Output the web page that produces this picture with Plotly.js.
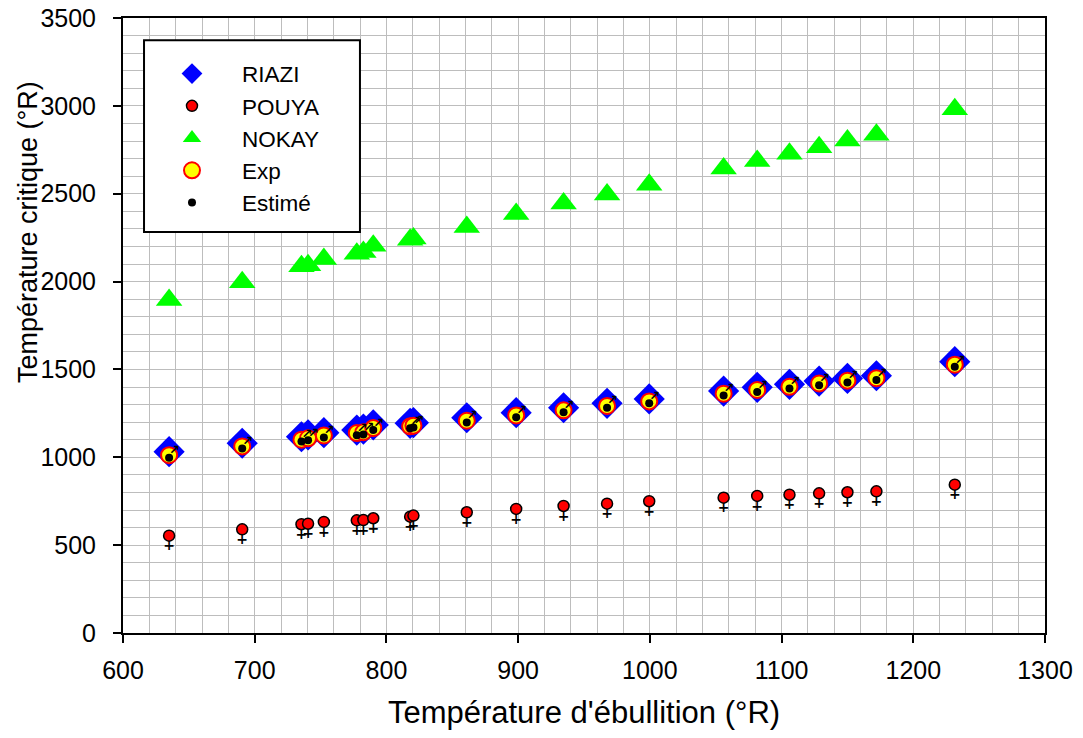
<!DOCTYPE html>
<html><head><meta charset="utf-8">
<script src="https://cdn.plot.ly/plotly-3.0.1.min.js"></script>
<style>html,body{margin:0;padding:0;background:#fff}#chart{width:1083px;height:738px}</style>
</head><body><div id="chart"></div>
<script>
// Température d'ébullition (°R)
const tempEbullition = [635, 690.5, 735.5, 740.5, 752.5, 777.5, 782.5, 790, 818, 820.5, 861, 898.5, 934.5, 967.5, 999.5, 1056, 1081.5, 1106, 1128.5, 1150, 1172, 1231.5];
// Température critique (°R)
const riazi  = [1032, 1080, 1117, 1127, 1140, 1155, 1160, 1184, 1193, 1197, 1225, 1254, 1282, 1307, 1332, 1377, 1398, 1415, 1434, 1449, 1464, 1544];
const pouya  = [554, 590, 619, 622, 632, 641, 643, 653, 662, 668, 687, 706, 723, 736, 750, 770, 780, 787, 795, 801, 806, 844];
const nokay  = [1895, 1996, 2087, 2093, 2128, 2158, 2168, 2204, 2238, 2245, 2311, 2385, 2445, 2495, 2551, 2644, 2686, 2727, 2765, 2803, 2836, 2980];
const expVals = [1012, 1062, 1100, 1108, 1124, 1138, 1143, 1166, 1176, 1180, 1208, 1238, 1267, 1292, 1318, 1362, 1383, 1401, 1420, 1436, 1450, 1527];
const estime = [998, 1050, 1090, 1097, 1112, 1125, 1130, 1155, 1165, 1170, 1198, 1228, 1256, 1282, 1308, 1352, 1372, 1392, 1410, 1425, 1440, 1515];
const seriesNames = ['RIAZI', 'POUYA', 'NOKAY', 'Exp', 'Estimé'];
const xTitle = "Température d'ébullition (°R)";
const yTitle = 'Température critique (°R)';

const fontFam = 'Liberation Sans, Arial, sans-serif';
const gridCol = '#bdbdbd';

const traces = [
  {x: tempEbullition, y: nokay, type: 'scatter', mode: 'markers', name: seriesNames[2], legendrank: 3,
   marker: {symbol: 'triangle-up', size: 23, color: '#00ff00'}},
  {x: tempEbullition, y: riazi, type: 'scatter', mode: 'markers', name: seriesNames[0], legendrank: 1,
   marker: {symbol: 'diamond', size: 24, color: '#0000ff'}},
  {x: tempEbullition, y: expVals, type: 'scatter', mode: 'markers', name: seriesNames[3], legendrank: 4,
   marker: {symbol: 'circle', size: 16, color: '#ffff00', line: {color: '#ff0000', width: 2}}},
  {x: tempEbullition, y: estime, type: 'scatter', mode: 'markers', name: seriesNames[4], legendrank: 5,
   marker: {symbol: 'circle', size: 8, color: '#000000'}},
  // arrow of the "male" symbol for Estimé
  {x: tempEbullition, y: estime, type: 'scatter', mode: 'text', showlegend: false, hoverinfo: 'skip',
   text: tempEbullition.map(() => '↗'), textposition: 'top right',
   textfont: {family: 'DejaVu Sans', size: 13, color: '#000', weight: 'bold'}},
  // cross of the "female" symbol for POUYA
  {x: tempEbullition, y: pouya, type: 'scatter', mode: 'markers+text', showlegend: false, hoverinfo: 'skip',
   text: tempEbullition.map(() => '+'), textposition: 'bottom center',
   textfont: {family: 'DejaVu Sans', size: 14, color: '#000', weight: 'bold'},
   marker: {symbol: 'circle', size: 5, color: 'rgba(0,0,0,0)'}},
  {x: tempEbullition, y: pouya, type: 'scatter', mode: 'markers', name: seriesNames[1], legendrank: 2,
   marker: {symbol: 'circle', size: 11, color: '#ff0000', line: {color: '#000', width: 1.5}}}
];

const layout = {
  width: 1083, height: 738,
  paper_bgcolor: '#fff', plot_bgcolor: '#fff',
  margin: {l: 123, r: 38, t: 18, b: 105},
  font: {family: fontFam, color: '#000'},
  showlegend: true,
  legend: {x: 0.0206, y: 0.944, xanchor: 'left', yanchor: 'top', bgcolor: 'rgba(0,0,0,0)',
           borderwidth: 0, font: {size: 22.5, family: fontFam},
           itemwidth: 90, traceorder: 'normal'},
  shapes: [{type: 'rect', xref: 'paper', yref: 'paper', x0: 0.0228, x1: 0.257, y0: 0.652, y1: 0.964,
            fillcolor: '#fff', line: {color: '#000', width: 2}, layer: 'above'}],
  annotations: [{text: yTitle, xref: 'paper', yref: 'paper', x: -0.103, y: 0.652, xanchor: 'center', yanchor: 'middle',
                 textangle: -90, showarrow: false, font: {size: 27, family: fontFam, color: '#000'}}],
  xaxis: {range: [600, 1300], dtick: 100, tick0: 600,
          showgrid: true, gridcolor: gridCol, gridwidth: 1,
          minor: {dtick: 20, showgrid: true, gridcolor: gridCol, gridwidth: 1, ticks: ''},
          showline: true, linecolor: '#000', linewidth: 2, mirror: true,
          ticks: 'outside', ticklen: 8, tickwidth: 2, tickcolor: '#000',
          zeroline: false, tickfont: {size: 25, family: fontFam}, ticklabelstandoff: 6,
          title: {text: xTitle, font: {size: 31, family: fontFam}, standoff: 18}},
  yaxis: {range: [0, 3500], dtick: 500, tick0: 0,
          showgrid: true, gridcolor: gridCol, gridwidth: 1,
          minor: {dtick: 100, showgrid: true, gridcolor: gridCol, gridwidth: 1, ticks: ''},
          showline: true, linecolor: '#000', linewidth: 2, mirror: true,
          ticks: 'outside', ticklen: 8, tickwidth: 2, tickcolor: '#000',
          zeroline: false, tickfont: {size: 25, family: fontFam}, ticklabelstandoff: 12}
};

Plotly.newPlot('chart', traces, layout, {displayModeBar: false, staticPlot: true});
</script>
</body></html>
